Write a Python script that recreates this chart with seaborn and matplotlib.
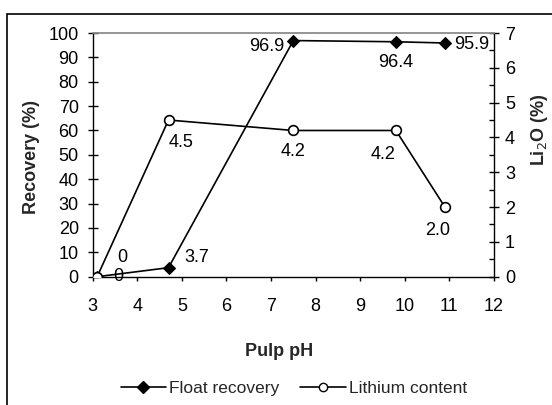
import matplotlib
matplotlib.use("Agg")
import matplotlib.pyplot as plt
import seaborn as sns
import pandas as pd
from matplotlib.patches import Rectangle
from matplotlib.ticker import MultipleLocator
from matplotlib.lines import Line2D

sns.set_theme(style="white")
plt.rcParams['font.family'] = ['Liberation Sans', 'DejaVu Sans']

ph = [3.1, 4.7, 7.5, 9.8, 10.9]
float_recovery = [0.0, 3.7, 96.9, 96.4, 95.9]
lithium_content = [0.0, 4.5, 4.2, 4.2, 2.0]
float_labels = ["0", "3.7", "96.9", "96.4", "95.9"]
lithium_labels = ["0", "4.5", "4.2", "4.2", "2.0"]
x_ticks = list(range(3, 13))
left_ticks = list(range(0, 101, 10))
right_ticks = list(range(0, 8))

df = pd.DataFrame({"ph": ph, "rec": float_recovery, "li": lithium_content})

fig = plt.figure(figsize=(5.52, 4.05), dpi=100)
ax = fig.add_axes([92.7/552, 1-276.7/405, (494-92.7)/552, (276.7-33)/405])
ax2 = ax.twinx()

sns.lineplot(data=df, x="ph", y="rec", ax=ax, color="black", lw=1.2,
             marker="D", markersize=6.5, markerfacecolor="black",
             markeredgecolor="black", sort=False, zorder=3)
sns.lineplot(data=df, x="ph", y="li", ax=ax2, color="black", lw=1.2,
             marker="o", markersize=7, markerfacecolor="white",
             markeredgecolor="black", markeredgewidth=1.2, sort=False, zorder=3)

ax.set_xlim(3, 12)
ax.set_ylim(0, 100)
ax2.set_ylim(0, 7)
ax.set_xticks(x_ticks)
ax.set_yticks(left_ticks)
ax2.set_yticks(right_ticks)
ax2.yaxis.set_minor_locator(MultipleLocator(0.5))
ax.set_xlabel("")
ax.set_ylabel("")
ax2.set_ylabel("")

fs = 13
ax.tick_params(axis='x', direction='out', length=3, width=1, colors='black',
               labelsize=fs, pad=12, bottom=True)
ax.tick_params(axis='y', direction='inout', length=7, width=1, colors='black',
               labelsize=fs, pad=6.5, left=True)
ax2.tick_params(axis='y', which='major', direction='inout', length=7, width=1,
                colors='black', labelsize=fs, pad=4.5, right=True)
ax2.tick_params(axis='y', which='minor', direction='in', length=3.5, width=1,
                colors='black', right=True)

for a in (ax, ax2):
    for s in a.spines.values():
        s.set_visible(False)
ax.spines['left'].set_visible(True)
ax.spines['bottom'].set_visible(True)
ax2.spines['right'].set_visible(True)
ax2.spines['top'].set_visible(True)
ax2.spines['top'].set_color('#888888')
for s in ('left', 'bottom'):
    ax.spines[s].set_color('black'); ax.spines[s].set_linewidth(1)
ax2.spines['right'].set_color('black'); ax2.spines['right'].set_linewidth(1)

f_off = [(18, 14), (20, 7), (-19, -4), (0, -15), (19, -1)]
l_off = [(15, 0), (9, -16), (0, -15), (-9, -17), (-5, -17)]
for x, y, t, o in zip(ph, float_recovery, float_labels, f_off):
    ax.annotate(t, (x, y), xytext=o, textcoords='offset points', ha='center',
                va='center', fontsize=fs, color='black', zorder=5)
for x, y, t, o in zip(ph, lithium_content, lithium_labels, l_off):
    ax2.annotate(t, (x, y), xytext=o, textcoords='offset points', ha='center',
                 va='center', fontsize=fs, color='black', zorder=5)

fig.text(279/552, 1-352/405, "Pulp pH", ha='center', va='center',
         fontsize=fs, fontweight='bold')
fig.text(32/552, 1-157/405, "Recovery (%)", rotation=90, ha='center',
         va='center', fontsize=fs, fontweight='bold')
fig.text(539/552, 1-130/405, "Li$_2$O (%)", rotation=90, ha='center',
         va='center', fontsize=fs, fontweight='bold')

handles = [Line2D([], [], color='black', lw=1.2, marker='D', markersize=6,
                  markerfacecolor='black'),
           Line2D([], [], color='black', lw=1.2, marker='o', markersize=6,
                  markerfacecolor='white')]
fig.legend(handles, ["Float recovery", "Lithium content"], loc='center',
           bbox_to_anchor=(294/552, 1-388/405), ncol=2, frameon=False,
           fontsize=12.5, handlelength=2.6, handletextpad=0.2, columnspacing=1.2)

fig.patches.append(Rectangle((7/552, -0.1), 1.2, 1-14/405+0.1,
                             transform=fig.transFigure, fill=False,
                             edgecolor='black', lw=1.2))

fig.savefig("out.png", dpi=100)
